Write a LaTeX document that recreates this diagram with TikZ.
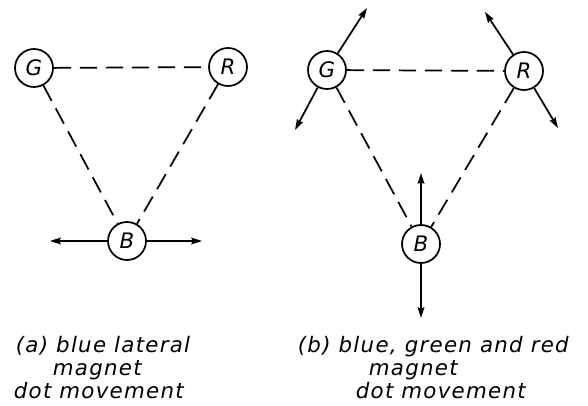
\documentclass[tikz,border=0pt]{standalone}
\usepackage{fontspec}
\setmainfont{DejaVu Sans}
\newfontfamily\captfont[LetterSpace=6]{DejaVu Sans Oblique}
\newfontfamily\dotfont{DejaVu Sans Oblique}
\usetikzlibrary{positioning,arrows.meta}

\begin{document}
\begin{tikzpicture}[
    x=0.75pt, y=-0.75pt, >={Stealth[length=8pt,width=5pt,inset=1pt]},
    line width=1.3pt,
    dot/.style={draw, circle, inner sep=0pt, minimum size=28.5pt, font=\dotfont\fontsize{16}{18}\selectfont},
    dashline/.style={dash pattern=on 13pt off 6.5pt},
    capt/.style={anchor=base west, inner sep=0pt, font=\captfont\fontsize{16}{19}\selectfont}]
  \useasboundingbox (0,0) rectangle (588,406);
  % (a) only the blue dot moves sideways
  \node[dot] (ga) at (34,68) {G};
  \node[dot] (ra) at (228,67) {R};
  \node[dot] (ba) at (127,241) {B};
  \coordinate (baL) at (50,241);
  \coordinate (baR) at (202,241);
  \draw[dashline] (ga) -- (ra);
  \draw[dashline] (ga) -- (ba);
  \draw[dashline] (ra) -- (ba);
  \draw[->] (ba) -- (baL);
  \draw[->] (ba) -- (baR);
  % (b) all three dots move
  \node[dot] (gb) at (327,70) {G};
  \node[dot] (rb) at (524,71) {R};
  \node[dot] (bb) at (421,244) {B};
  \coordinate (gbU) at (367,8);
  \coordinate (gbD) at (295,130);
  \coordinate (rbU) at (485,12);
  \coordinate (rbD) at (558,128);
  \coordinate (bbU) at (421,173);
  \coordinate (bbD) at (421,318);
  \draw[dashline] (gb) -- (rb);
  \draw[dashline] (gb) -- (bb);
  \draw[dashline] (rb) -- (bb);
  \draw[->] (gb) -- (gbU);
  \draw[->] (gb) -- (gbD);
  \draw[->] (rb) -- (rbU);
  \draw[->] (rb) -- (rbD);
  \draw[->] (bb) -- (bbU);
  \draw[->] (bb) -- (bbD);
  % captions
  \node[capt] (ca1) at (15,352) {(a) blue lateral};
  \node[capt] (ca2) at (52,375) {magnet};
  \node[capt] (ca3) at (13,398) {dot movement};
  \node[capt] (cb1) at (297,352) {(b) blue, green and red};
  \node[capt] (cb2) at (368,375) {magnet};
  \node[capt] (cb3) at (355,398) {dot movement};
\end{tikzpicture}
\end{document}
